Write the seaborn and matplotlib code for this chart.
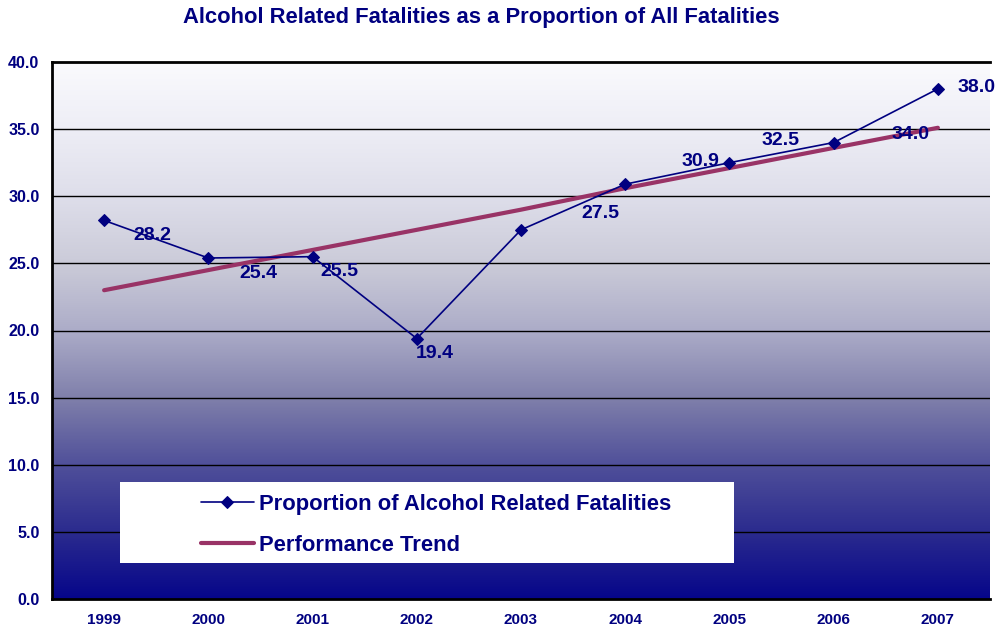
import numpy as np
import pandas as pd
import matplotlib
matplotlib.use("Agg")
import matplotlib.pyplot as plt
import seaborn as sns
from matplotlib.colors import LinearSegmentedColormap
from matplotlib.ticker import MultipleLocator, FixedLocator
from matplotlib.patches import Rectangle

#%% data
years = ["1999", "2000", "2001", "2002", "2003", "2004", "2005", "2006", "2007"]
proportion = [28.2, 25.4, 25.5, 19.4, 27.5, 30.9, 32.5, 34.0, 38.0]
trend = [23.0, 24.5, 26.0, 27.5, 29.0, 30.6, 32.1, 33.6, 35.1]
value_labels = ["28.2", "25.4", "25.5", "19.4", "27.5", "30.9", "32.5", "34.0", "38.0"]

df = pd.DataFrame({"pos": range(len(years)), "year": years,
                   "proportion": proportion, "trend": trend})

#%% style
sns.set_style("white")
plt.rcParams["font.family"] = ["Liberation Sans", "DejaVu Sans"]
navy = "#000080"
plum = "#993366"

fig = plt.figure(figsize=(9.98, 6.25), dpi=100)
ax = fig.add_axes([52/998, 26/625, 938/998, 537/625])

# vertical gradient background, white at the top to navy at the bottom
grad_cmap = LinearSegmentedColormap.from_list(
    "bg", [(0.0, "#06068a"), (0.12, "#2a2a8e"), (0.25, "#50509a"),
           (0.37, "#7e7eaa"), (0.5, "#acacc8"), (0.62, "#cacad8"),
           (0.75, "#dedeea"), (0.88, "#eeeef6"), (1.0, "#fafafd")])
grad = np.linspace(0, 1, 256).reshape(-1, 1)
ax.imshow(grad, cmap=grad_cmap, origin="lower", aspect="auto",
          extent=(-0.5, 8.5, 0, 40), zorder=0)

for yv in range(5, 40, 5):
    ax.axhline(yv, color="black", lw=1, zorder=1)

sns.lineplot(data=df, x="pos", y="trend", color=plum, lw=3, ax=ax,
             zorder=3, label="Performance Trend", legend=False)
sns.lineplot(data=df, x="pos", y="proportion", color=navy, lw=1.2,
             marker="D", markersize=6, markeredgecolor=navy, ax=ax,
             zorder=4, label="Proportion of Alcohol Related Fatalities", legend=False)

# data labels (offsets in points, as placed in the original)
offsets = [(35, -11), (36, -11), (19, -11), (13, -11), (57, 12),
           (54, 16), (37, 16), (55, 6), (28, 1)]
for i, (lab, off) in enumerate(zip(value_labels, offsets)):
    ax.annotate(lab, (i, proportion[i]), xytext=off, textcoords="offset points",
                ha="center", va="center", fontsize=14, fontweight="bold",
                color=navy, zorder=5)

ax.set_xlim(-0.5, 8.5)
ax.set_ylim(0, 40)
ax.set_xlabel("")
ax.set_ylabel("")
ax.set_xticks(range(len(years)))
ax.set_xticklabels(years)
ax.xaxis.set_minor_locator(FixedLocator(np.arange(-0.5, 9, 1)))
ax.tick_params(axis="x", which="major", length=0, pad=10)
ax.tick_params(axis="x", which="minor", length=5, width=1.5, direction="out", color="black")
ax.yaxis.set_major_locator(MultipleLocator(5))
ax.set_yticklabels([f"{v:.1f}" for v in ax.get_yticks()])
ax.tick_params(axis="y", length=5, width=1.5, direction="out", color="black", pad=4)
for lab in ax.get_xticklabels():
    lab.set_fontweight("bold")
    lab.set_color(navy)
    lab.set_fontsize(11)
for lab in ax.get_yticklabels():
    lab.set_fontweight("bold")
    lab.set_color(navy)
    lab.set_fontsize(11.5)

for s in ["left", "bottom", "top"]:
    ax.spines[s].set_visible(True)
    ax.spines[s].set_color("black")
    ax.spines[s].set_linewidth(2)
ax.spines["right"].set_visible(False)

# legend on a white box
ax.add_patch(Rectangle(((120-52)/938, (599-563)/537), (734-120)/938, 81/537,
                       transform=ax.transAxes, facecolor="white", edgecolor="none",
                       zorder=6))
handles, labels = ax.get_legend_handles_labels()
order = [1, 0]
leg = ax.legend([handles[i] for i in order], [labels[i] for i in order],
                loc="center left", bbox_to_anchor=((190-52)/938, (599-525)/537),
                frameon=False, prop={"weight": "bold", "size": 15.8},
                handlelength=2.4, handletextpad=0.25, labelspacing=0.9, borderpad=0)
leg.set_zorder(7)
for t in leg.get_texts():
    t.set_color(navy)

fig.text(481/998, 1 - 18/625, "Alcohol Related Fatalities as a Proportion of All Fatalities",
         ha="center", va="center", fontsize=15.8, fontweight="bold", color=navy)

plt.savefig("out.png", dpi=100)
